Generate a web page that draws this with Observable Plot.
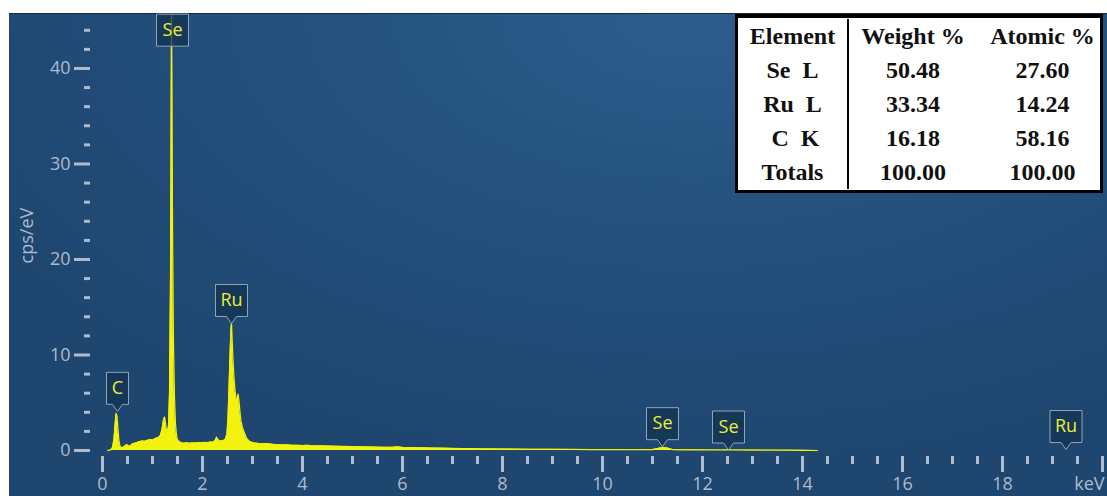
<!DOCTYPE html>
<html><head><meta charset="utf-8">
<script src="https://cdn.jsdelivr.net/npm/d3@7"></script>
<script src="https://cdn.jsdelivr.net/npm/@observablehq/plot@0.6"></script>
<style>
body{margin:0;background:#fff;}
#wrap{position:relative;width:1107px;height:496px;overflow:hidden;background:#fff;}
#chart{position:absolute;left:9px;top:13px;border-top:1px solid #1b2b3d;}
#chart svg{display:block;}
#tbl{position:absolute;left:735px;top:14px;width:362px;border:3px solid #000;border-top-width:4px;background:#fff;display:grid;grid-template-columns:111px 128px 1fr;font-family:"Liberation Serif","Times New Roman",serif;font-weight:bold;font-size:24px;color:#111;padding:1px 0 1px;}
#tbl div{height:34px;line-height:34px;text-align:center;white-space:pre;}
#tbl .c0{border-right:2px solid #000;}
#tbl .c2{padding-left:8px;}
</style></head><body>
<div id="wrap"><div id="chart"></div><div id="tbl"></div></div>
<script>
// ---- spectrum (keV, counts per eV) ----
const energyKeV = [0.10,0.16,0.20,0.23,0.25,0.27,0.29,0.31,0.33,0.35,0.38,0.42,0.46,0.50,0.52,0.56,0.60,0.64,0.68,0.72,0.76,0.80,0.84,0.88,0.92,0.96,1.00,1.04,1.08,1.12,1.16,1.19,1.22,1.24,1.26,1.28,1.30,1.32,1.34,1.36,1.37,1.38,1.39,1.40,1.42,1.44,1.46,1.48,1.50,1.54,1.58,1.62,1.68,1.74,1.80,1.86,1.92,1.98,2.04,2.10,2.16,2.22,2.26,2.28,2.30,2.34,2.38,2.42,2.46,2.49,2.51,2.53,2.55,2.57,2.58,2.59,2.61,2.63,2.65,2.67,2.69,2.71,2.73,2.75,2.77,2.80,2.84,2.88,2.92,2.96,3.02,3.10,3.20,3.30,3.40,3.50,3.60,3.70,3.80,3.90,4.00,4.10,4.20,4.40,4.60,4.80,5.00,5.20,5.40,5.60,5.80,5.90,6.00,6.20,6.40,6.60,6.80,7.00,7.20,7.40,7.60,7.80,8.00,8.30,8.60,9.00,9.40,9.80,10.20,10.60,11.00,11.10,11.20,11.30,11.40,11.70,12.00,12.40,12.50,12.60,13.00,13.50,14.00,14.30];
const countsCps = [0,0.05,0.3,1.2,2.6,3.9,3.6,2.2,1.0,0.45,0.3,0.35,0.55,0.6,0.45,0.5,0.7,0.75,0.8,0.9,0.95,1.0,0.95,1.05,1.1,1.15,1.1,1.2,1.3,1.35,1.6,2.2,3.2,3.5,2.9,2.1,1.9,2.6,6,18,32,45.6,38,24,11,5.5,2.8,1.6,1.1,0.9,0.8,0.75,0.8,0.75,0.8,0.78,0.82,0.8,0.85,0.82,0.88,0.9,1.1,1.4,1.2,1.0,1.0,1.05,1.2,1.8,3.5,6.5,10,12.8,13.3,12,9.5,7.6,6.3,5.4,5.3,5.9,5.2,4.0,3.1,2.4,1.8,1.3,1.05,0.9,0.8,0.75,0.7,0.72,0.65,0.62,0.6,0.6,0.55,0.55,0.52,0.55,0.5,0.48,0.45,0.43,0.4,0.38,0.36,0.33,0.34,0.38,0.32,0.3,0.28,0.26,0.24,0.22,0.2,0.19,0.17,0.16,0.15,0.14,0.13,0.12,0.11,0.1,0.09,0.08,0.1,0.2,0.32,0.25,0.1,0.07,0.06,0.05,0.08,0.05,0.04,0.03,0.02,0];

// ---- peak markers ----
const peakElements = ["C","Se","Ru","Se","Se","Ru"];
const peakKeV = [0.30,1.40,2.58,11.20,12.52,19.27];
const peakTipCps = [4.1,41.6,13.3,0.4,0.05,0.1];
const peakPinned = [false,true,false,false,false,false];

// ---- axes ----
const xMajorTicks = [0,2,4,6,8,10,12,14,16,18,20];
const xTickLabels = [0,2,4,6,8,10,12,14,16,18];
const xMinorTicks = [0.5,1,1.5,2.5,3,3.5,4.5,5,5.5,6.5,7,7.5,8.5,9,9.5,10.5,11,11.5,12.5,13,13.5,14.5,15,15.5,16.5,17,17.5,18.5,19,19.5];
const xUnitLabel = "keV";
const xUnitAt = 20;
const yMajorTicks = [0,10,20,30,40];
const yMinorTicks = [2,4,6,8,12,14,16,18,22,24,26,28,32,34,36,38,42,44];
const yAxisLabel = "cps/eV";
const yAxisLabelAt = 22.5;

// ---- quantification table ----
const tableHeaders = ["Element","Weight %","Atomic %"];
const tableElements = ["Se  L","Ru  L"," C  K","Totals"];
const weightPct = ["50.48","33.34","16.18","100.00"];
const atomicPct = ["27.60","14.24","58.16","100.00"];

const spectrum = energyKeV.map((e, i) => ({e, c: countsCps[i]}));
const peaks = peakElements.map((el, i) => ({el, e: peakKeV[i], tip: peakTipCps[i], pin: peakPinned[i]}));

function callout(w, pointer) {
  return {draw(ctx) {
    const h = 32, p = 7, hw = w / 2, b = -p;
    ctx.moveTo(-hw, b - h);
    ctx.lineTo(hw, b - h);
    ctx.lineTo(hw, b);
    if (pointer) { ctx.lineTo(5, b); ctx.lineTo(0, 0); ctx.lineTo(-5, b); }
    ctx.lineTo(-hw, b);
    ctx.closePath();
  }};
}

const tickColor = "#aebbcc";
const yellow = "#f2f20c";
const font = "'Open Sans','Noto Sans',sans-serif";

const peakGroups = d3.groups(peaks, d => `${d.el.length}|${d.pin}`);

const chart = Plot.plot({
  width: 1098, height: 483,
  marginLeft: 93, marginRight: 0, marginTop: 0, marginBottom: 47,
  x: {domain: [0, 20.1]},
  y: {domain: [0, 45.65]},
  style: {background: "radial-gradient(ellipse 75% 95% at 62% 0%, #2c5e8c 0%, #24517e 45%, #1e466f 100%)", fontFamily: font, overflow: "visible"},
  marks: [
    Plot.areaY(spectrum, {x: "e", y: "c", fill: yellow, curve: "linear"}),
    Plot.lineY(spectrum, {x: "e", y: "c", stroke: yellow, strokeWidth: 1.2}),
    ...peakGroups.map(([, rows]) => Plot.dot(rows, {
      x: "e", y: "tip", r: 3,
      symbol: callout(rows[0].el.length === 1 ? 22 : 32, !rows[0].pin),
      fill: "#14334f", fillOpacity: 0.75, stroke: "#8ea5bf", strokeWidth: 1
    })),
    Plot.text(peaks, {x: "e", y: "tip", text: "el", dy: -23, fill: "#eded3a", fontSize: 18, fontFamily: font}),
    Plot.axisY({ticks: yMajorTicks, tickSize: 16, dx: -12, tickPadding: 4, stroke: tickColor, fill: tickColor, strokeWidth: 3, fontSize: 18, label: null}),
    Plot.axisY({ticks: yMinorTicks, tickSize: 6, dx: -12, stroke: tickColor, fill: "none", strokeWidth: 3, label: null}),
    Plot.axisX({ticks: xMajorTicks, tickSize: 16, dy: 6, stroke: tickColor, fill: "none", strokeWidth: 3, label: null}),
    Plot.axisX({ticks: xTickLabels, tickSize: 0, dy: 6, tickPadding: 21, stroke: "none", fill: tickColor, fontSize: 18, label: null, tickFormat: d => String(d)}),
    Plot.axisX({ticks: xMinorTicks, tickSize: 8, dy: 6, stroke: tickColor, fill: "none", strokeWidth: 3, label: null}),
    Plot.text([xUnitLabel], {x: () => xUnitAt, text: d => d, frameAnchor: "bottom", textAnchor: "end", lineAnchor: "top", dx: 2, dy: 27, fill: tickColor, fontSize: 18, fontFamily: font}),
    Plot.text([yAxisLabel], {y: () => yAxisLabelAt, text: d => d, frameAnchor: "left", textAnchor: "middle", rotate: -90, dx: -75, fill: tickColor, fontSize: 18, fontFamily: font})
  ]
});
document.getElementById("chart").appendChild(chart);

const tbl = document.getElementById("tbl");
const rows = [tableHeaders, ...tableElements.map((e, i) => [e, weightPct[i], atomicPct[i]])];
for (const r of rows) r.forEach((t, j) => {
  const d = document.createElement("div");
  d.className = "c" + j;
  d.textContent = t;
  tbl.appendChild(d);
});
</script>
</body></html>
